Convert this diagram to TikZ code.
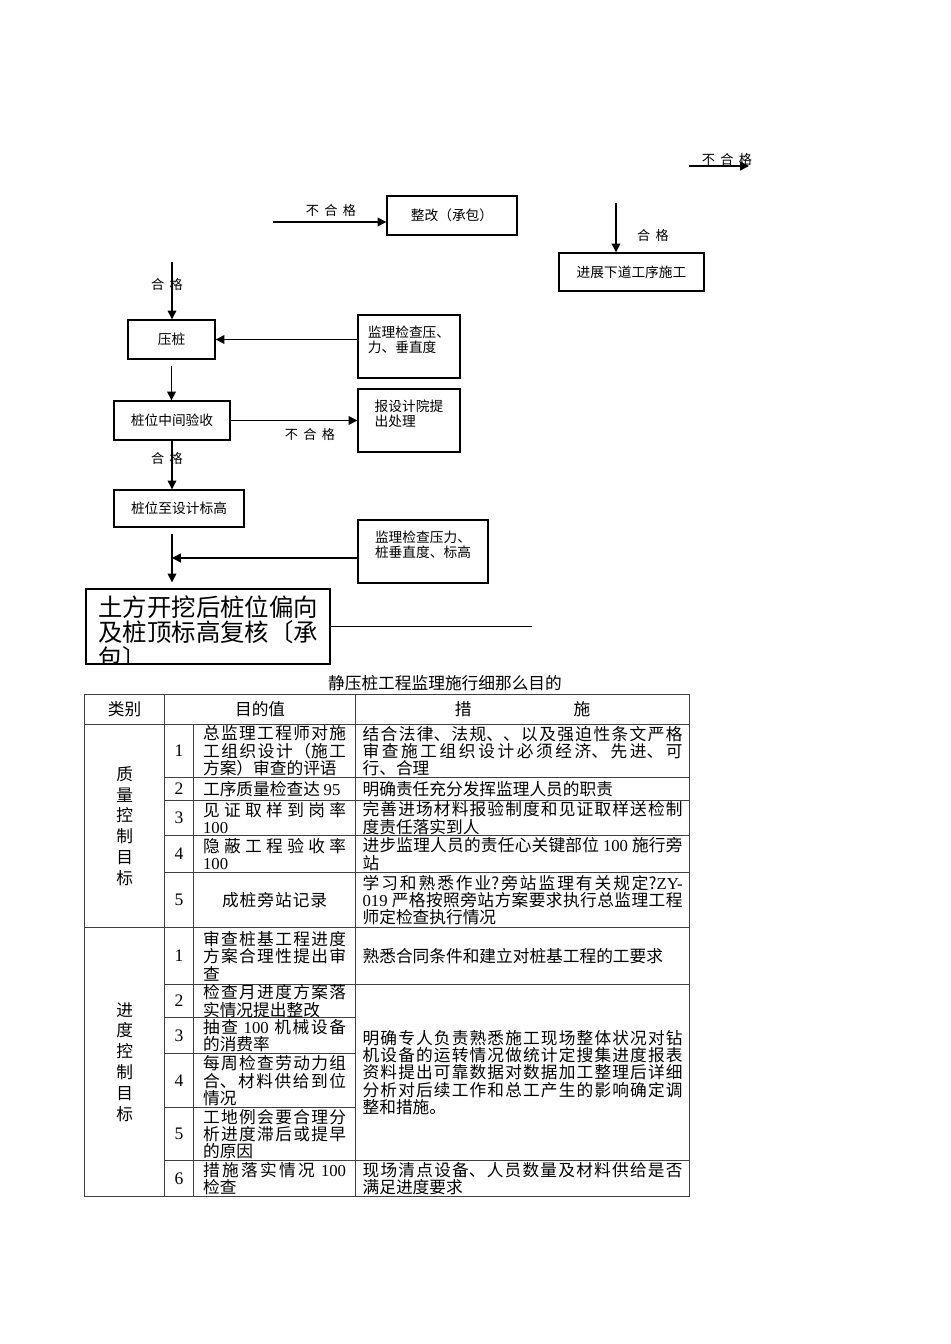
\documentclass[tikz,border=0pt]{standalone}
\usepackage{fontspec}
\setmainfont{Noto Sans CJK SC}
\newfontfamily\numfont{Liberation Serif}
\usetikzlibrary{positioning,arrows.meta,calc}
\XeTeXlinebreaklocale "zh"
\XeTeXlinebreakskip=0pt plus 1pt
\newcommand\flowfont{\fontsize{7.8}{8.6}\selectfont}
\newcommand\tabfont{\fontsize{9.5}{9.9}\selectfont}
\newcommand\tagsp{\hspace{3pt}}

\begin{document}
\begin{tikzpicture}[x=0.02cm, y=-0.02cm,
      >={Triangle[length=5pt,width=5pt]},
      box/.style={rectangle, draw=black, line width=0.8pt, align=left, inner sep=2pt, font=\flowfont},
      tag/.style={inner sep=0pt, font=\fontsize{7.5}{7.5}\selectfont},
      link/.style={line width=0.8pt},
      cell/.style={draw=black!75, line width=0.7pt, anchor=north west, inner sep=0pt, font=\tabfont},
      num/.style={cell, minimum width=0.58cm, font=\numfont\fontsize{10}{10}\selectfont},
      goal/.style={cell, minimum width=3.24cm, text width=2.86cm, align=justify},
      plan/.style={cell, minimum width=6.68cm, text width=6.4cm, align=justify},
      ]
      \useasboundingbox[fill=white] (0,0) rectangle (950,1344);

      \node[box, minimum width=2.6cm, minimum height=0.78cm] (rectify) at (452,215.5) {整改（承包）};
      \node[box, minimum width=2.9cm, minimum height=0.76cm] (nextstep) at (631.5,272) {进展下道工序施工};
      \node[box, minimum width=1.74cm, minimum height=0.78cm] (press) at (171.5,339.5) {压桩};
      \node[box, minimum width=2.04cm, minimum height=1.26cm] (check1) at (409,346.5) {监理检查压、\\力、垂直度\\ \mbox{}};
      \node[box, minimum width=2.32cm, minimum height=0.78cm] (midcheck) at (172,420.5) {桩位中间验收};
      \node[box, minimum width=2.04cm, minimum height=1.26cm] (design) at (409,420.5) {报设计院提\\出处理\\ \mbox{}};
      \node[box, minimum width=2.6cm, minimum height=0.74cm] (elev) at (179,508.5) {桩位至设计标高};
      \node[box, minimum width=2.6cm, minimum height=1.26cm] (check2) at (423,551.5) {监理检查压力、\\桩垂直度、标高\\ \mbox{}};
      \node[box, minimum width=4.88cm, minimum height=1.5cm] (recheck) at (208,626.5) {};
      \begin{scope}
        \clip (recheck.south west) rectangle (recheck.north east);
        \node[anchor=north west, inner sep=0pt, align=left, font=\fontsize{13.9}{14.7}\selectfont] (recheckText) at (98,595) {土方开挖后桩位偏向\\及桩顶标高复核〔承\\包〕};
      \end{scope}

      \coordinate (topA) at (689,166);
      \coordinate (topB) at (749,166);
      \coordinate (rectIn) at (273,222);
      \coordinate (nextIn) at (616,203);
      \coordinate (pressIn) at (172,262);
      \coordinate (join) at (172,558);
      \coordinate (tail) at (532,626.5);

      \draw[link,->] (topA) -- (topB);
      \draw[link,->] (rectIn) -- (rectIn -| rectify.west);
      \draw[link,->] (nextIn) -- (nextIn |- nextstep.north);
      \draw[link,->] (pressIn) -- (pressIn |- press.north);
      \draw[link,->] (press.east -| check1.west) -- (press.east);
      \draw[link,->, shorten <=3.4pt] (press.south) -- (press.south |- midcheck.north);
      \draw[link,->] (midcheck.east) -- (midcheck.east -| design.west);
      \draw[link,->] (midcheck.south) -- (midcheck.south |- elev.north);
      \draw[link,->, shorten <=3.4pt, shorten >=3.4pt] (elev.south -| join) -- (recheck.north -| join);
      \draw[link,->] (join -| check2.west) -- (join);
      \draw[link] (recheck.east) -- (tail);

      \node[tag] (nogoTop) at (727,159) {不\tagsp 合\tagsp 格};
      \node[tag] (nogoRect) at (331,210) {不\tagsp 合\tagsp 格};
      \node[tag] (okNext) at (653,235) {合\tagsp 格};
      \node[tag] (okPress) at (167,284) {合\tagsp 格};
      \node[tag] (nogoDesign) at (310,434) {不\tagsp 合\tagsp 格};
      \node[tag] (okElev) at (167,458) {合\tagsp 格};

      \node[font=\tabfont] (title) at (445,683) {静压桩工程监理施行细那么目的};

      \node[cell, minimum width=1.6cm, minimum height=0.6cm] (hcat) at (84,694) {类别};
      \node[cell, minimum width=3.82cm, minimum height=0.6cm] (hgoal) at (164,694) {目的值};
      \node[cell, minimum width=6.68cm, minimum height=0.6cm] (hplan) at (355,694) {措\hspace{58pt}施};

      \node[cell, minimum width=1.6cm, minimum height=4.06cm, align=center, font=\fontsize{9.5}{11.9}\selectfont] (qcat) at (84,724) {质\\量\\控\\制\\目\\标};
      \node[num, minimum height=1.06cm] (q1n) at (164,724) {1};
      \node[goal, minimum height=1.06cm] (q1g) at (193,724) {总监理工程师对施\linebreak 工组织设计（施工\linebreak 方案）审查的评语};
      \node[plan, minimum height=1.06cm] (q1p) at (355,724) {结合法律、法规、、以及强迫性条文严格\linebreak 审查施工组织设计必须经济、先进、可\linebreak 行、合理};
      \node[num, minimum height=0.46cm] (q2n) at (164,777) {2};
      \node[goal, minimum height=0.46cm] (q2g) at (193,777) {工序质量检查达 {\numfont 95}};
      \node[plan, minimum height=0.46cm] (q2p) at (355,777) {明确责任充分发挥监理人员的职责};
      \node[num, minimum height=0.70cm] (q3n) at (164,800) {3};
      \node[goal, minimum height=0.70cm] (q3g) at (193,800) {见证取样到岗率\linebreak {\numfont 100}};
      \node[plan, minimum height=0.70cm] (q3p) at (355,800) {完善进场材料报验制度和见证取样送检制\linebreak 度责任落实到人};
      \node[num, minimum height=0.74cm] (q4n) at (164,835) {4};
      \node[goal, minimum height=0.74cm] (q4g) at (193,835) {隐蔽工程验收率\linebreak {\numfont 100}};
      \node[plan, minimum height=0.74cm] (q4p) at (355,835) {进步监理人员的责任心关键部位 {\numfont 100} 施行旁\linebreak 站};
      \node[num, minimum height=1.10cm] (q5n) at (164,872) {5};
      \node[goal, minimum height=1.10cm, align=center] (q5g) at (193,872) {成桩旁站记录};
      \node[plan, minimum height=1.10cm] (q5p) at (355,872) {学习和熟悉作业?旁站监理有关规定?{\numfont ZY-}\linebreak {\numfont 019} 严格按照旁站方案要求执行总监理工程\linebreak 师定检查执行情况};

      \node[cell, minimum width=1.6cm, minimum height=5.38cm, align=center, font=\fontsize{9.5}{11.9}\selectfont] (jcat) at (84,927) {进\\度\\控\\制\\目\\标};
      \node[num, minimum height=1.14cm] (j1n) at (164,927) {1};
      \node[goal, minimum height=1.14cm] (j1g) at (193,927) {审查桩基工程进度\linebreak 方案合理性提出审\linebreak 查};
      \node[plan, minimum height=1.14cm] (j1p) at (355,927) {熟悉合同条件和建立对桩基工程的工要求};
      \node[num, minimum height=0.66cm] (j2n) at (164,984) {2};
      \node[goal, minimum height=0.66cm] (j2g) at (193,984) {检查月进度方案落\linebreak 实情况提出整改};
      \node[num, minimum height=0.72cm] (j3n) at (164,1017) {3};
      \node[goal, minimum height=0.72cm] (j3g) at (193,1017) {抽查 {\numfont 100} 机械设备\linebreak 的消费率};
      \node[num, minimum height=1.08cm] (j4n) at (164,1053) {4};
      \node[goal, minimum height=1.08cm] (j4g) at (193,1053) {每周检查劳动力组\linebreak 合、材料供给到位\linebreak 情况};
      \node[num, minimum height=1.06cm] (j5n) at (164,1107) {5};
      \node[goal, minimum height=1.06cm] (j5g) at (193,1107) {工地例会要合理分\linebreak 析进度滞后或提早\linebreak 的原因};
      \node[plan, minimum height=3.52cm] (j25p) at (355,984) {明确专人负责熟悉施工现场整体状况对钻\linebreak 机设备的运转情况做统计定搜集进度报表\linebreak 资料提出可靠数据对数据加工整理后详细\linebreak 分析对后续工作和总工产生的影响确定调\linebreak 整和措施。};
      \node[num, minimum height=0.72cm] (j6n) at (164,1160) {6};
      \node[goal, minimum height=0.72cm] (j6g) at (193,1160) {措施落实情况 {\numfont 100}\linebreak 检查};
      \node[plan, minimum height=0.72cm] (j6p) at (355,1160) {现场清点设备、人员数量及材料供给是否\linebreak 满足进度要求};
    \end{tikzpicture}
\end{document}
